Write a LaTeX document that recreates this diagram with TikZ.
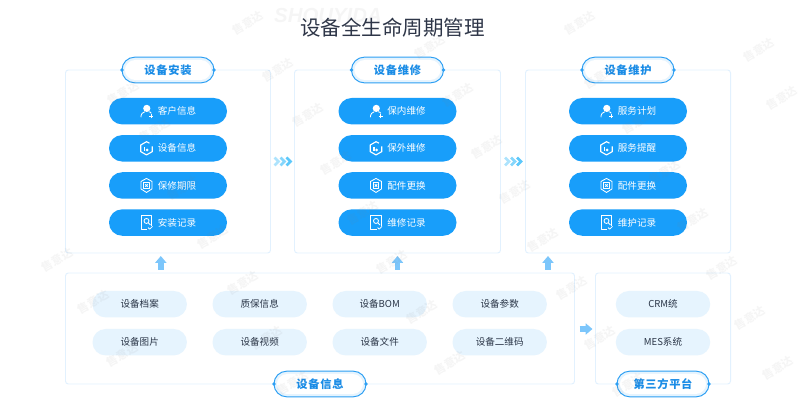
\documentclass[tikz,border=0pt]{standalone}
\usepackage{fontspec}
\setmainfont{Noto Sans CJK SC}
\newfontfamily\tagfont[LetterSpace=6]{Noto Sans CJK SC}
\newfontfamily\markfont{Liberation Sans}
\usepackage{tikz}
\usetikzlibrary{arrows.meta,positioning,calc}
\definecolor{titleink}{HTML}{2E3648}
\definecolor{textink}{HTML}{2B3648}
\definecolor{panelline}{HTML}{E2F1FE}
\definecolor{pillblue}{HTML}{189EFA}
\definecolor{pillpale}{HTML}{E6F4FE}
\definecolor{tagblue}{HTML}{2D9FF3}
\definecolor{taginkblue}{HTML}{1A8CE6}
\definecolor{arrowblue}{HTML}{7CC6FB}
\definecolor{chevblue}{HTML}{5CC8FB}

\begin{document}
\begin{tikzpicture}[
    panel/.style={rectangle, draw=panelline, line width=0.7pt, rounded corners=2pt,
                  fill=white, outer sep=0pt, inner sep=0pt},
    tagbox/.style={rectangle, draw=tagblue, line width=0.7pt, rounded corners=9pt, fill=pillpale,
                   minimum width=2.3cm, minimum height=0.64cm, inner sep=0pt, outer sep=0pt,
                   text=taginkblue, font=\tagfont\fontsize{8}{10}\selectfont\bfseries,
                   path picture={\fill[white, rounded corners=7.5pt]
                     ($(path picture bounding box.south west)+(0.07,0.07)$) rectangle
                     ($(path picture bounding box.north east)-(0.07,0.07)$);}},
    pill/.style={rectangle, rounded corners=9.3pt, fill=pillblue, text=white,
                 minimum width=2.95cm, minimum height=0.66cm, inner sep=0pt, outer sep=0pt,
                 font=\fontsize{6.8}{8}\selectfont},
    palepill/.style={rectangle, rounded corners=9.3pt, fill=pillpale, text=textink,
                 minimum width=2.36cm, minimum height=0.66cm, inner sep=0pt, outer sep=0pt,
                 font=\fontsize{6.8}{8}\selectfont},
    blockarr/.style={-{Triangle[width=0.275cm,length=0.17cm]}, line width=4pt, draw=arrowblue,
                 shorten >=0.075cm, shorten <=0.075cm},
    px/.style={x=0.025cm, y=0.025cm},
    ico/.style={draw=white, line width=0.6pt, line join=round},
    wmark/.style={text=gray, opacity=0.08, rotate=30, font=\fontsize{8}{10}\selectfont\bfseries},
    pics/usericon/.style={code={
        \begin{scope}[px, shift={(37.5,0)}]
        \fill[white] (0.3,2.8) circle (3.6);
        \draw[ico] (-5.6,-6) .. controls (-5.6,-2.4) and (-3.4,-1) .. (-1.8,-0.6);
        \draw[ico] (2.2,-0.6) .. controls (3.2,-0.4) and (4.2,-1.2) .. (4.8,-2.2);
        \draw[ico] (2.6,-5) -- (7,-5) (4.8,-7.2) -- (4.8,-2.8);
        \end{scope}}},
    pics/boxicon/.style={code={
        \begin{scope}[px, shift={(37.5,0)}]
        \draw[ico, line width=0.8pt] (3,5.2) -- (0,6.6) -- (-5.8,3.3) -- (-5.8,-3.3) -- (0,-6.6) -- (5.8,-3.3) -- (5.8,2);
        \fill[white] (-2.6,-2.6) rectangle (-1.2,1.4);
        \fill[white] (0.6,-1.6) circle (1.5);
        \end{scope}}},
    pics/shieldicon/.style={code={
        \begin{scope}[px, shift={(37.5,0)}]
        \draw[ico] (0,7) -- (5.5,4) -- (5.5,-3.5) -- (0,-7) -- (-5.5,-3.5) -- (-5.5,4) -- cycle;
        \draw[ico] (-2.6,-2.6) rectangle (2.6,2.6);
        \draw[ico] (-1.2,1.2) -- (1.2,-1.2) (1.2,1.2) -- (-1.2,-1.2);
        \end{scope}}},
    pics/recicon/.style={code={
        \begin{scope}[px, shift={(37.5,0)}]
        \draw[ico] (5,-3.4) -- (5,6.8) -- (-5.4,6.8) -- (-5.4,-6.4) -- (1,-6.4);
        \draw[ico] (0,1.6) circle (2.5);
        \draw[ico] (1.8,-0.2) -- (4,-2.4);
        \draw[ico] (1.6,-5) -- (3.2,-6.6) -- (6,-3.8);
        \end{scope}}}
]
\useasboundingbox (0,0) rectangle (20,10.075);

\node[panel, minimum width=5.125cm, minimum height=4.575cm] (install) at (4.2,6.0375) {};
\node[panel, minimum width=5.15cm, minimum height=4.575cm, right=0.6cm of install] (repair) {};
\node[panel, minimum width=5.125cm, minimum height=4.575cm, right=0.625cm of repair] (upkeep) {};
\node[panel, minimum width=12.725cm, minimum height=2.775cm, below=0.5cm of install.south west, anchor=north west] (info) {};
\node[panel, minimum width=3.375cm, minimum height=2.775cm, right=0.525cm of info] (third) {};

\node[font=\fontsize{14.6}{17}\selectfont, text=titleink] (title) at (9.81,9.38) {设备全生命周期管理};

% Column one
\node[tagbox] (t1) at (install.north) {设备安装};
\node[pill, below=0.38cm of t1] (a1) {\hspace*{0.45cm}客户信息};
\node[pill, below=0.268cm of a1] (a2) {\hspace*{0.45cm}设备信息};
\node[pill, below=0.268cm of a2] (a3) {\hspace*{0.45cm}保修期限};
\node[pill, below=0.268cm of a3] (a4) {\hspace*{0.45cm}安装记录};
\pic at (a1.west) {usericon};
\pic at (a2.west) {boxicon};
\pic at (a3.west) {shieldicon};
\pic at (a4.west) {recicon};

% Column two
\node[tagbox] (t2) at (repair.north) {设备维修};
\node[pill, below=0.38cm of t2] (b1) {\hspace*{0.45cm}保内维修};
\node[pill, below=0.268cm of b1] (b2) {\hspace*{0.45cm}保外维修};
\node[pill, below=0.268cm of b2] (b3) {\hspace*{0.45cm}配件更换};
\node[pill, below=0.268cm of b3] (b4) {\hspace*{0.45cm}维修记录};
\pic at (b1.west) {usericon};
\pic at (b2.west) {boxicon};
\pic at (b3.west) {shieldicon};
\pic at (b4.west) {recicon};

% Column three
\node[tagbox] (t3) at (upkeep.north) {设备维护};
\node[pill, below=0.38cm of t3] (c1) {\hspace*{0.45cm}服务计划};
\node[pill, below=0.268cm of c1] (c2) {\hspace*{0.45cm}服务提醒};
\node[pill, below=0.268cm of c2] (c3) {\hspace*{0.45cm}配件更换};
\node[pill, below=0.268cm of c3] (c4) {\hspace*{0.45cm}维护记录};
\pic at (c1.west) {usericon};
\pic at (c2.west) {boxicon};
\pic at (c3.west) {shieldicon};
\pic at (c4.west) {recicon};

% Bottom row
\node[palepill, below right=0.45cm and 0.675cm of info.north west] (d1) {设备档案};
\node[palepill, right=0.64cm of d1] (d2) {质保信息};
\node[palepill, right=0.64cm of d2] (d3) {设备BOM};
\node[palepill, right=0.64cm of d3] (d4) {设备参数};
\node[palepill, below=0.29cm of d1] (e1) {设备图片};
\node[palepill, below=0.29cm of d2] (e2) {设备视频};
\node[palepill, below=0.29cm of d3] (e3) {设备文件};
\node[palepill, below=0.29cm of d4] (e4) {设备二维码};
\node[palepill, below=0.45cm of third.north] (f1) {CRM统};
\node[palepill, below=0.29cm of f1] (f2) {MES系统};
\node[tagbox] (t4) at (info.south) {设备信息};
\node[tagbox] (t5) at (third.south) {第三方平台};

\fill[tagblue] (t1.west) circle (0.045cm) (t1.east) circle (0.045cm);
\fill[tagblue] (t2.west) circle (0.045cm) (t2.east) circle (0.045cm);
\fill[tagblue] (t3.west) circle (0.045cm) (t3.east) circle (0.045cm);
\fill[tagblue] (t4.west) circle (0.045cm) (t4.east) circle (0.045cm);
\fill[tagblue] (t5.west) circle (0.045cm) (t5.east) circle (0.045cm);

% Arrows
\coordinate (up1) at ($(install.south)+(-0.18,0)$);
\coordinate (up3) at ($(upkeep.south)+(-2,0)$);
\draw[blockarr] (up1 |- info.north) -- (up1);
\draw[blockarr] (repair.south |- info.north) -- (repair.south);
\draw[blockarr] (up3 |- info.north) -- (up3);
\draw[blockarr, shorten <=0.125cm] (info.east |- f2.north) -- (third.west |- f2.north);

\foreach \nx/\shade in {-6/50, 0/75, 6/100}{
  \draw[chevblue!\shade, line width=1.9pt, px]
    ($(install.east)!0.5!(repair.west)+(\nx-2,4)$) -- ++(4,-4) -- ++(-4,-4);
  \draw[chevblue!\shade, line width=1.9pt, px]
    ($(repair.east)!0.5!(upkeep.west)+(\nx-2,4)$) -- ++(4,-4) -- ++(-4,-4);
}

% Watermarks
\node[text=gray, opacity=0.08, font=\markfont\fontsize{14.5}{17}\selectfont\bfseries\itshape] (wordmark) at (8.2,9.7) {SHOUYIDA};
\foreach \wx/\wy [count=\wi] in {248/23,278/70,308/115,336/163,363/213,392/262,422/312,450/363,
    123/93,155/130,183/188,213/237,243/283,267/338,293/383,
    430/47,458/95,487/147,515/192,543/240,572/288,600/338,628/385,
    580/23,600/77,638/122,665/172,693/220,722/268,750/318,778/368,
    759/50,782/98,93/302,122/355,57/260}{
  \node[wmark] (wm\wi) at (\wx*0.025,10.075-\wy*0.025) {售意达};
}
\end{tikzpicture}
\end{document}
